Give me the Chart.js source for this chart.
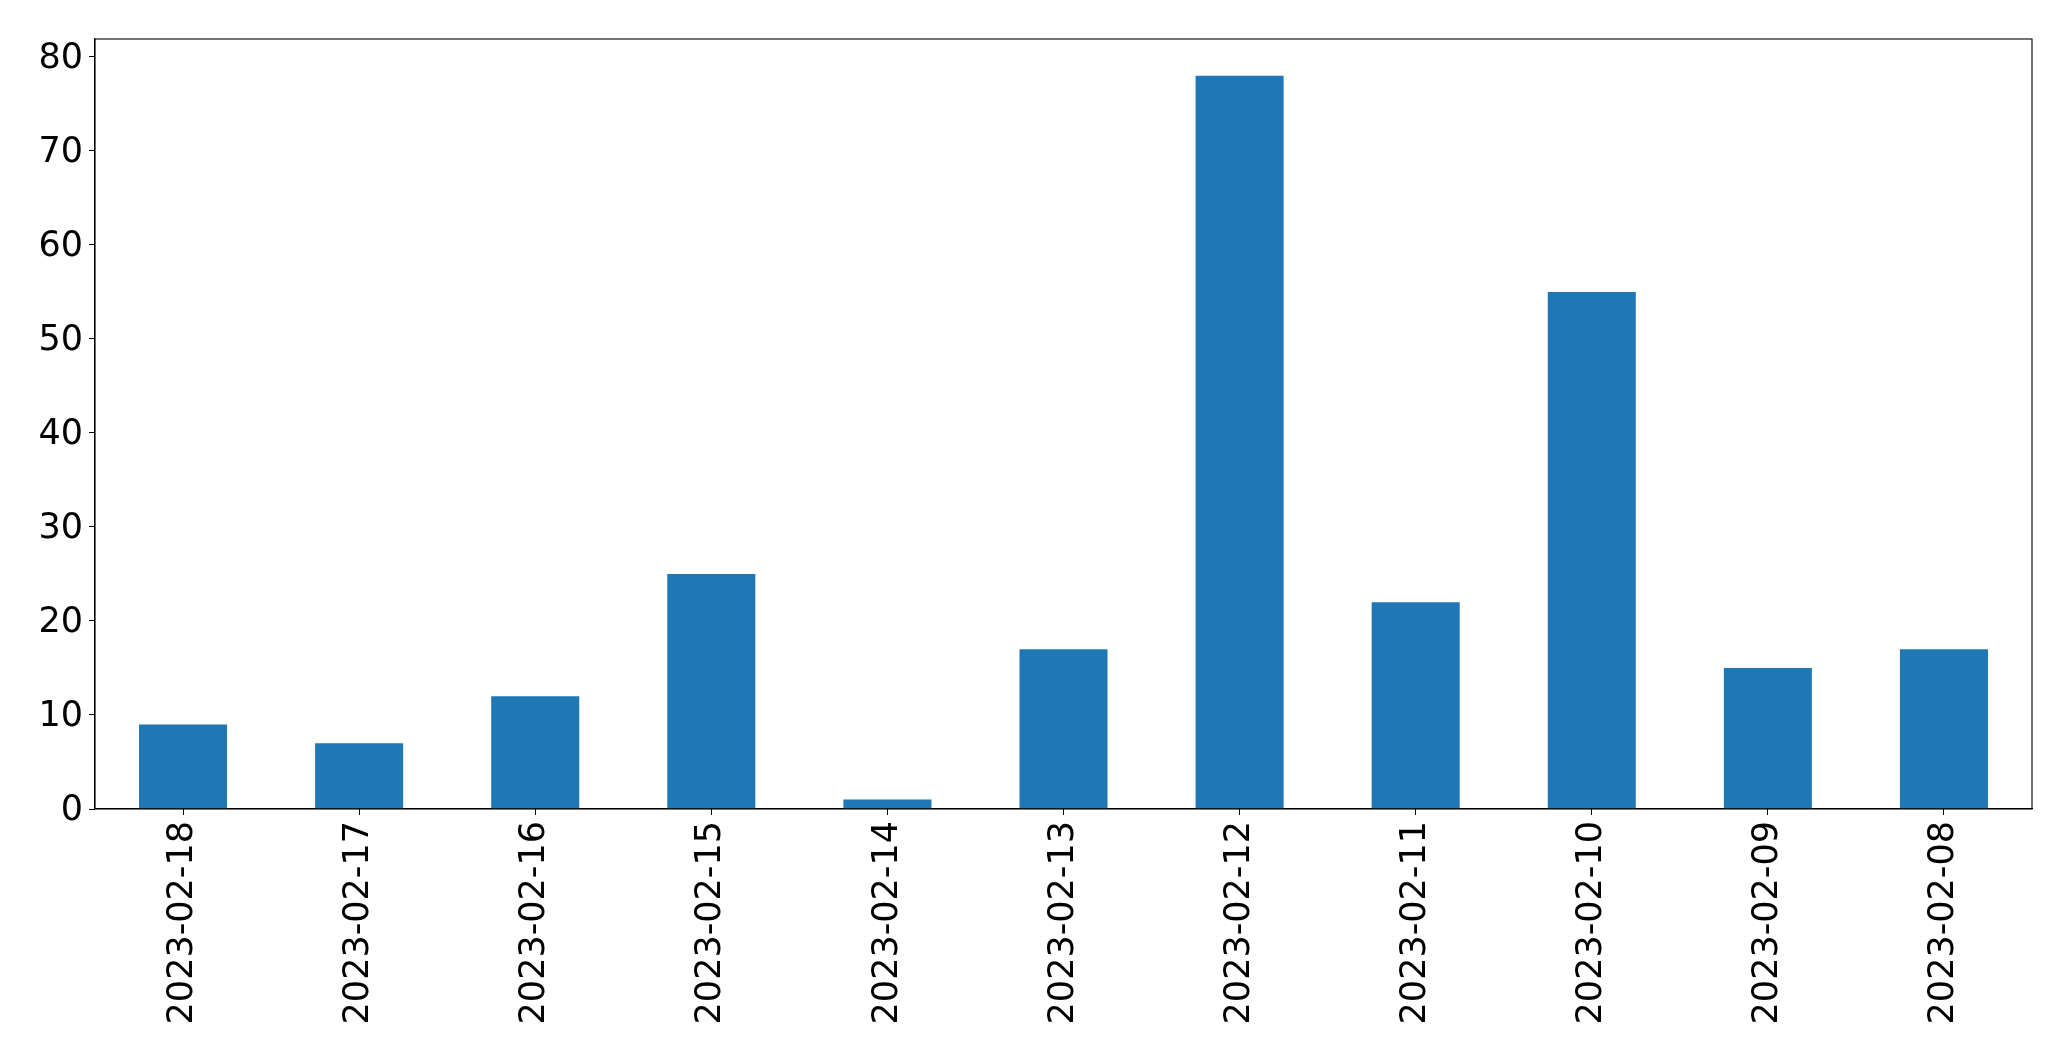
<!DOCTYPE html>
<html>
<head>
<meta charset="utf-8">
<script src="https://cdn.jsdelivr.net/npm/chart.js@4"></script>
<style>
  html, body { margin: 0; padding: 0; background: #fff; }
  #wrap { width: 2071px; height: 1061px; }
</style>
</head>
<body>
<div id="wrap"><canvas id="barChart"></canvas></div>
<script>
// Data
const dates = ['2023-02-18', '2023-02-17', '2023-02-16', '2023-02-15', '2023-02-14', '2023-02-13',
  '2023-02-12', '2023-02-11', '2023-02-10', '2023-02-09', '2023-02-08'];
const counts = [9, 7, 12, 25, 1, 17, 78, 22, 55, 15, 17];
const yTicks = [0, 10, 20, 30, 40, 50, 60, 70, 80];

// Draw the frame on the top and right sides too
const frame = {
  id: 'frame',
  afterDraw(chart) {
    const { ctx, chartArea: a } = chart;
    ctx.save();
    ctx.strokeStyle = '#000';
    ctx.lineWidth = 1.1;
    ctx.strokeRect(a.left, a.top, a.right - a.left, a.bottom - a.top);
    ctx.restore();
  }
};

const tickFont = { family: 'DejaVu Sans', size: 35 };

const ctx = document.getElementById('barChart').getContext('2d');
new Chart(ctx, {
  type: 'bar',
  data: {
    labels: dates,
    datasets: [{
      data: counts,
      backgroundColor: '#1f77b4',
      borderWidth: 0,
      barPercentage: 0.5,
      categoryPercentage: 1.0
    }]
  },
  options: {
    responsive: true,
    maintainAspectRatio: false,
    animation: false,
    layout: { padding: { top: 39, right: 39, left: 0, bottom: 0 } },
    plugins: {
      legend: { display: false },
      tooltip: { enabled: false }
    },
    scales: {
      x: {
        offset: true,
        grid: { offset: false, drawOnChartArea: false, drawTicks: true, tickLength: 6, color: '#000' },
        border: { display: true, color: '#000', width: 1.1 },
        ticks: { color: '#000', font: tickFont, minRotation: 90, maxRotation: 90, padding: 6, autoSkip: false },
        afterFit(scale) { scale.height = 252; }
      },
      y: {
        min: 0,
        max: 81.9,
        grid: { drawOnChartArea: false, drawTicks: true, tickLength: 6, color: '#000' },
        border: { display: true, color: '#000', width: 1.1 },
        afterBuildTicks(scale) { scale.ticks = yTicks.map(v => ({ value: v })); },
        ticks: { color: '#000', font: tickFont, padding: 6, labelOffset: 2 },
        afterFit(scale) { scale.width = 95; }
      }
    }
  },
  plugins: [frame]
});
</script>
</body>
</html>
